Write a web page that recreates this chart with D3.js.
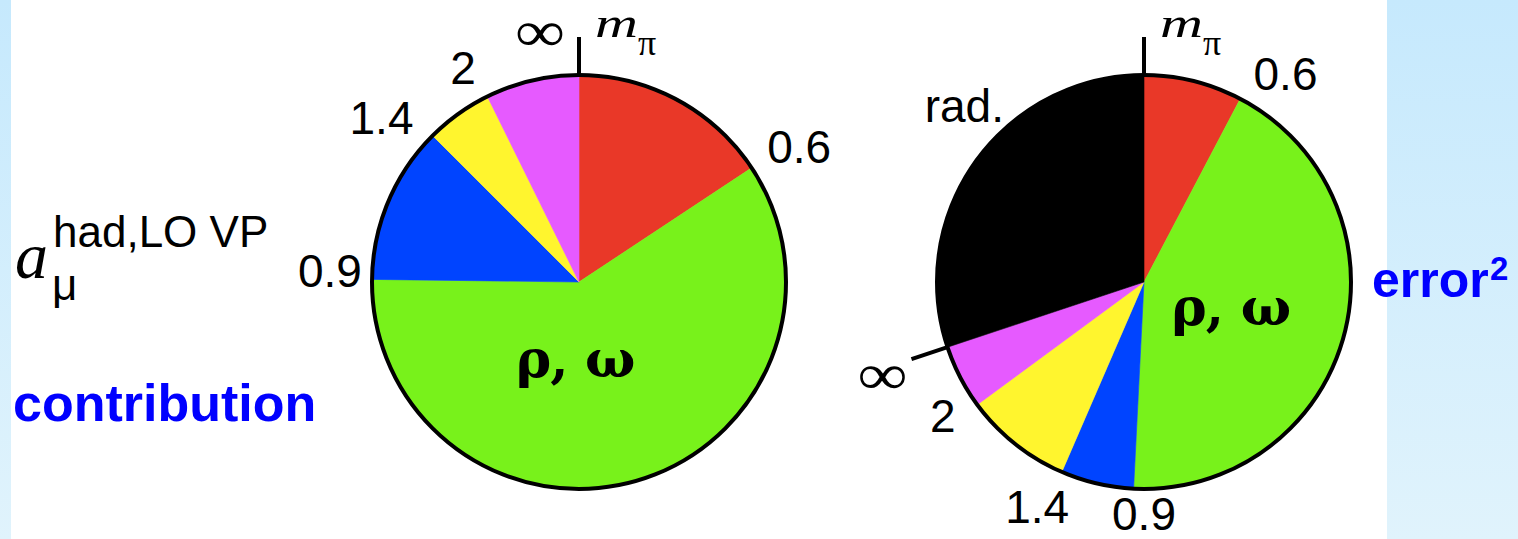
<!DOCTYPE html>
<html>
<head>
<meta charset="utf-8">
<script src="https://cdn.jsdelivr.net/npm/d3@7"></script>
<style>
  html, body { margin: 0; padding: 0; background: #ffffff; }
  svg { display: block; }
</style>
</head>
<body>
<svg id="chart" width="1518" height="539"></svg>
<script>
// Energy boundaries (GeV) between the intervals, clockwise from the top
const edgeLabels = ["m_π", "0.6", "0.9", "1.4", "2", "∞"];
// Interval names (the last one is the radiative corrections)
const intervals = ["m_π–0.6", "ρ, ω", "0.9–1.4", "1.4–2", "2–∞", "rad."];
// Share of a_μ^{had,LO VP} per energy interval (%)
const contribution = [15.7, 59.5, 12.3, 5.2, 7.3];
// Share of the squared error per interval (%)
const errorSquared = [7.7, 43.1, 5.7, 8.4, 5.0, 30.1];

const sliceColors = ["#e93828", "#78f21b", "#0044ff", "#fff52e", "#e65aff", "#000000"];

const W = 1518, H = 539;
const svg = d3.select("#chart");

// side bands
const defs = svg.append("defs");
const grad = defs.append("linearGradient").attr("id", "band")
  .attr("x1", 0).attr("y1", 0).attr("x2", 0).attr("y2", 1);
grad.append("stop").attr("offset", "0%").attr("stop-color", "#c6e9fd");
grad.append("stop").attr("offset", "100%").attr("stop-color", "#e0f3fc");
svg.append("rect").attr("x", 0).attr("y", 0).attr("width", 11).attr("height", H).attr("fill", "url(#band)");
svg.append("rect").attr("x", 1387).attr("y", 0).attr("width", W - 1387).attr("height", H).attr("fill", "url(#band)");

const SANS = "'Liberation Sans', Arial, Helvetica, sans-serif";
const SERIF = "'Liberation Serif', 'Times New Roman', serif";
const LABEL_SIZE = 46;
const R = 207, TICK = 38, GAP = 14;

const polar = (a, r) => [r * Math.sin(a), -r * Math.cos(a)];

function drawPie(values, cx, cy, o) {
  const arcs = d3.pie().sort(null).value(d => d)(values);
  const arc = d3.arc().innerRadius(0).outerRadius(R);
  const g = svg.append("g").attr("transform", `translate(${cx},${cy})`);

  g.selectAll("path.slice").data(arcs).join("path")
    .attr("class", "slice")
    .attr("d", arc)
    .attr("fill", (d, i) => sliceColors[i])
    .attr("stroke", (d, i) => sliceColors[i])
    .attr("stroke-width", 0.6);

  g.append("circle").attr("r", R).attr("fill", "none")
    .attr("stroke", "#000").attr("stroke-width", 4);

  // tick marks
  o.ticks.forEach(a => {
    const p0 = polar(a, R), p1 = polar(a, R + TICK);
    g.append("line").attr("x1", p0[0]).attr("y1", p0[1]).attr("x2", p1[0]).attr("y2", p1[1])
      .attr("stroke", "#000").attr("stroke-width", 4);
  });

  // m_π at the start of the first interval, right of the top tick
  g.append("text").attr("x", 16).attr("y", -245)
    .attr("font-family", SERIF).attr("font-style", "italic").attr("font-size", 42)
    .attr("textLength", 43).attr("lengthAdjust", "spacingAndGlyphs")
    .text("m");
  g.append("text").attr("x", 59).attr("y", -227)
    .attr("font-family", SERIF).attr("font-size", 36).text("π");

  // boundary labels at slice ends
  arcs.forEach((d, i) => {
    const lab = edgeLabels[i + 1];
    if (lab === undefined) return;
    const a = d.endAngle;
    const isInf = lab === "∞";
    const t = g.append("text")
      .attr("text-anchor", "middle")
      .attr("dominant-baseline", "central")
      .attr("font-family", isInf ? SERIF : SANS)
      .attr("font-size", isInf ? 58 : LABEL_SIZE)
      .text(lab);
    if (isInf) t.attr("textLength", 50).attr("lengthAdjust", "spacingAndGlyphs");
    if (Math.abs(a - 2 * Math.PI) < 1e-6) {
      // closes at the top: left of the tick
      t.attr("text-anchor", "end").attr("x", -14).attr("y", -251);
      return;
    }
    const w = isInf ? 50 : t.node().getComputedTextLength();
    const h = isInf ? 22 : 0.716 * LABEL_SIZE;
    const dist = R + GAP + (w / 2) * Math.abs(Math.sin(a)) + (h / 2) * Math.abs(Math.cos(a));
    const p = polar(a, dist);
    const n = o.nudge[lab] || [0, 0];
    t.attr("x", p[0] + n[0]).attr("y", p[1] + n[1]);
  });

  // ρ, ω resonance region label
  const green = arcs[1];
  const gm = polar((green.startAngle + green.endAngle) / 2, R * 0.5);
  g.append("text")
    .attr("x", gm[0] + o.rhoNudge[0]).attr("y", gm[1] + o.rhoNudge[1])
    .attr("text-anchor", "middle")
    .attr("font-family", "'DejaVu Serif', serif").attr("font-weight", "bold")
    .attr("font-size", 53)
    .attr("letter-spacing", -1)
    .text(intervals[1]);

  // radiative correction label
  if (arcs.length > 5) {
    const rad = arcs[5];
    const rm = polar((rad.startAngle + rad.endAngle) / 2, 245);
    g.append("text")
      .attr("x", rm[0] + o.radNudge[0]).attr("y", rm[1] + o.radNudge[1])
      .attr("text-anchor", "middle")
      .attr("font-family", SANS).attr("font-size", LABEL_SIZE)
      .text(intervals[5]);
  }
  return arcs;
}

// contribution pie
drawPie(contribution, 579, 282, {
  ticks: [0],
  nudge: { "0.6": [6, 7], "0.9": [4, -8], "1.4": [-17, 16], "2": [-9, 2] },
  rhoNudge: [-33, -4],
  radNudge: [0, 0]
});

// error² pie
const errArcs = d3.pie().sort(null).value(d => d)(errorSquared);
drawPie(errorSquared, 1144, 282, {
  ticks: [0, errArcs[4].endAngle],
  nudge: { "0.6": [25, 14], "0.9": [12, -7], "1.4": [-8, -3], "2": [-7, -9], "∞": [-26, 14] },
  rhoNudge: [-13, 15.5],
  radNudge: [19, -16.5]
});

// left title  a_μ^{had,LO VP}
svg.append("text").attr("x", 15).attr("y", 278)
  .attr("font-family", SERIF).attr("font-style", "italic").attr("font-size", 66).text("a");
svg.append("text").attr("x", 52).attr("y", 300)
  .attr("font-family", SANS).attr("font-size", 44).text("μ");
svg.append("text").attr("x", 53).attr("y", 247)
  .attr("font-family", SANS).attr("font-size", 44).text("had,LO VP");

svg.append("text").attr("x", 13).attr("y", 421)
  .attr("font-family", SANS).attr("font-weight", "bold").attr("font-size", 52)
  .attr("fill", "#0000ff").text("contribution");

svg.append("text").attr("x", 1372).attr("y", 297)
  .attr("font-family", SANS).attr("font-weight", "bold").attr("font-size", 50)
  .attr("fill", "#0000ff").text("error");
svg.append("text").attr("x", 1490).attr("y", 280)
  .attr("font-family", SANS).attr("font-weight", "bold").attr("font-size", 33)
  .attr("fill", "#0000ff").text("2");
</script>
</body>
</html>
